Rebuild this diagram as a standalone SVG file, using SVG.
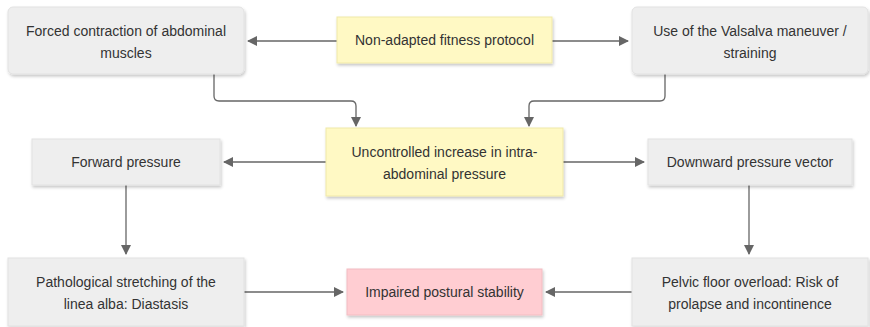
<svg xmlns="http://www.w3.org/2000/svg" width="870" height="327" viewBox="0 0 870 327">
<defs>
<filter id="sh" x="-10%" y="-20%" width="120%" height="150%">
<feDropShadow dx="1" dy="2" stdDeviation="1.5" flood-color="#000" flood-opacity="0.22"/>
</filter>
<marker id="ah" viewBox="0 0 10 10" refX="9" refY="5" markerWidth="10" markerHeight="10" markerUnits="userSpaceOnUse" orient="auto">
<path d="M0,0 L10,5 L0,10 Z" fill="#666"/>
</marker>
<style>
.g{fill:#eeeeee;stroke:#e2e2e2;stroke-width:1}
.y{fill:#fff9c4;stroke:#f0e9a8;stroke-width:1}
.p{fill:#ffcdd2;stroke:#f2bcc2;stroke-width:1}
text{font-family:"Liberation Sans",Arial,sans-serif;font-size:14px;fill:#333;text-anchor:middle}
.c{fill:none;stroke:#666;stroke-width:1.3;marker-end:url(#ah)}
</style>
</defs>
<rect width="870" height="327" fill="#fff"/>
<g id="connectors">
<path class="c" d="M337,41 H248"/>
<path class="c" d="M552,41 H628"/>
<path class="c" d="M214,74 V96 Q214,101 219,101 H351 Q356,101 356,106 V126"/>
<path class="c" d="M665,74 V96 Q665,101 660,101 H534 Q529,101 529,106 V126"/>
<path class="c" d="M326,162 H224"/>
<path class="c" d="M563,162 H644"/>
<path class="c" d="M126,185 V254"/>
<path class="c" d="M749,185 V254"/>
<path class="c" d="M244,292 H343"/>
<path class="c" d="M632,292 H546"/>
</g>
<g id="n_forced">
<rect class="g" x="8" y="7" width="236" height="67" rx="5" filter="url(#sh)"/>
<text x="126" y="36">Forced contraction of abdominal</text>
<text x="126" y="58">muscles</text>
</g>
<g id="n_protocol">
<rect class="y" x="337" y="17" width="215" height="46" filter="url(#sh)"/>
<text x="444.5" y="45">Non-adapted fitness protocol</text>
</g>
<g id="n_valsalva">
<rect class="g" x="632" y="7" width="236" height="67" rx="5" filter="url(#sh)"/>
<text x="750" y="36">Use of the Valsalva maneuver /</text>
<text x="750" y="58">straining</text>
</g>
<g id="n_uncontrolled">
<rect class="y" x="326" y="128" width="237" height="68" filter="url(#sh)"/>
<text x="444.5" y="157">Uncontrolled increase in intra-</text>
<text x="444.5" y="179">abdominal pressure</text>
</g>
<g id="n_forward">
<rect class="g" x="32" y="139" width="188" height="46" filter="url(#sh)"/>
<text x="126" y="167">Forward pressure</text>
</g>
<g id="n_downward">
<rect class="g" x="648" y="139" width="204" height="46" filter="url(#sh)"/>
<text x="750" y="167">Downward pressure vector</text>
</g>
<g id="n_pathological">
<rect class="g" x="8" y="258" width="236" height="68" filter="url(#sh)"/>
<text x="126" y="287">Pathological stretching of the</text>
<text x="126" y="309">linea alba: Diastasis</text>
</g>
<g id="n_impaired">
<rect class="p" x="347" y="269" width="195" height="46" filter="url(#sh)"/>
<text x="444.5" y="297">Impaired postural stability</text>
</g>
<g id="n_pelvic">
<rect class="g" x="632" y="258" width="236" height="68" filter="url(#sh)"/>
<text x="750" y="287">Pelvic floor overload: Risk of</text>
<text x="750" y="309">prolapse and incontinence</text>
</g>
</svg>
